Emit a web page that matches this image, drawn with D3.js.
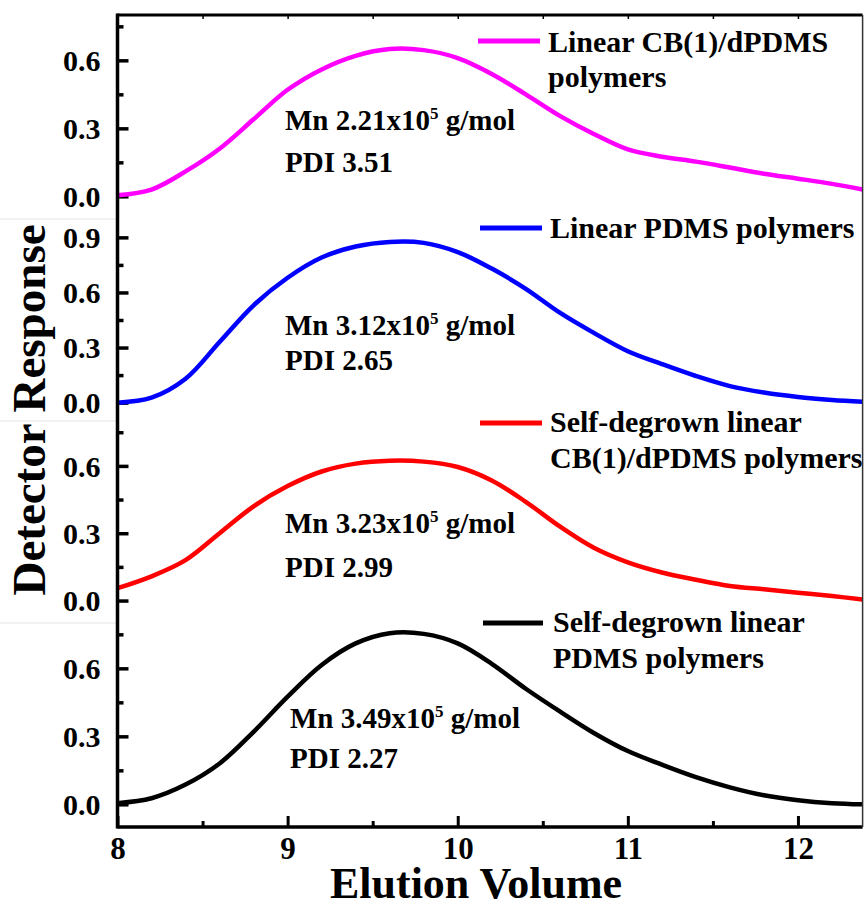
<!DOCTYPE html>
<html>
<head>
<meta charset="utf-8">
<script src="https://cdn.jsdelivr.net/npm/d3@7"></script>
<style>
  body { margin: 0; background: #fff; }
  text { font-family: "Liberation Serif", "Times New Roman", serif; font-weight: 700; }
</style>
</head>
<body>
<div id="chart"></div>
<script>
// elution volume sample points (shared by all traces)
var elution = [8.0, 8.2, 8.4, 8.6, 8.8, 9.0, 9.2, 9.4, 9.6, 9.8, 10.0, 10.2, 10.4, 10.6, 10.8, 11.0, 11.2, 11.4, 11.6, 11.8, 12.0, 12.2, 12.38];

// detector response
var linearCB = [0.005, 0.03, 0.11, 0.21, 0.34, 0.47, 0.56, 0.62, 0.65, 0.645, 0.61, 0.54, 0.45, 0.355, 0.275, 0.207, 0.175, 0.153, 0.127, 0.10, 0.078, 0.055, 0.03];
var linearPDMS = [0.0, 0.027, 0.13, 0.33, 0.53, 0.68, 0.79, 0.85, 0.875, 0.87, 0.82, 0.73, 0.62, 0.49, 0.38, 0.28, 0.21, 0.145, 0.09, 0.055, 0.031, 0.015, 0.005];
var degrownCB = [0.055, 0.108, 0.18, 0.30, 0.42, 0.51, 0.575, 0.61, 0.623, 0.619, 0.595, 0.535, 0.44, 0.33, 0.235, 0.17, 0.125, 0.093, 0.065, 0.05, 0.035, 0.02, 0.005];
var degrownPDMS = [0.005, 0.027, 0.087, 0.18, 0.32, 0.475, 0.615, 0.71, 0.755, 0.752, 0.71, 0.62, 0.51, 0.41, 0.315, 0.235, 0.175, 0.12, 0.075, 0.04, 0.018, 0.005, 0.0];

var seriesNames = [["Linear CB(1)/dPDMS", "polymers"], ["Linear PDMS polymers"], ["Self-degrown linear", "CB(1)/dPDMS polymers"], ["Self-degrown linear", "PDMS polymers"]];
var mnValues = ["2.21", "3.12", "3.23", "3.49"];
var pdiValues = ["3.51", "2.65", "2.99", "2.27"];
var colors = ["#ff00ff", "#0000ff", "#ff0000", "#000000"];

var xTicks = [8, 9, 10, 11, 12];
var xMinor = [8.5, 9.5, 10.5, 11.5];
var yMaxes = [0.8, 1.0, 0.8, 0.8];
var yTicksShort = [0, 0.3, 0.6];
var yTicksTall = [0, 0.3, 0.6, 0.9];
var yMinor = [0.15, 0.45, 0.75];

var W = 864, H = 908;
var left = 117.5, right = 862.6;
var bounds = [15, 219, 421, 623, 827];

// layout of the legend and the Mn/PDI notes, per panel
var legendLayout = [
  { x1: 478, x2: 540, ly: 41, tx: 548, ty: [52, 87] },
  { x1: 480, x2: 542, ly: 228, tx: 550, ty: [238] },
  { x1: 480, x2: 542, ly: 423, tx: 550, ty: [432, 468] },
  { x1: 483, x2: 543, ly: 623, tx: 553, ty: [632, 668] }
];
var noteLayout = [
  { x: 285, y1: 130, y2: 172 },
  { x: 285, y1: 335, y2: 370 },
  { x: 285, y1: 533, y2: 577 },
  { x: 290, y1: 728, y2: 768 }
];

var svg = d3.select("#chart").append("svg")
  .attr("width", W)
  .attr("height", H);

var x = d3.scaleLinear()
  .domain([8, 12.38])
  .range([left, right]);

var allSeries = [linearCB, linearPDMS, degrownCB, degrownPDMS];

// faint layer borders left of the axis
bounds.slice(1, 4).forEach(function (b) {
  svg.append("line")
    .attr("x1", 0).attr("x2", left)
    .attr("y1", b).attr("y2", b)
    .attr("stroke", "#e4e4e4")
    .attr("stroke-width", 1);
});

allSeries.forEach(function (vals, i) {
  var y = d3.scaleLinear()
    .domain([-0.1, yMaxes[i]])
    .range([bounds[i + 1], bounds[i]]);

  var major = yMaxes[i] > 0.9 ? yTicksTall : yTicksShort;

  var gMajor = svg.append("g")
    .attr("transform", "translate(" + left + ",0)")
    .call(d3.axisLeft(y).tickValues(major).tickSize(-11).tickPadding(17).tickFormat(d3.format(".1f")));
  gMajor.select(".domain").remove();
  gMajor.selectAll("line").attr("stroke", "#000").attr("stroke-width", 3.5);
  gMajor.selectAll("text").attr("font-size", 30).attr("fill", "#000").attr("dy", "0.34em");

  var gMinor = svg.append("g")
    .attr("transform", "translate(" + left + ",0)")
    .call(d3.axisLeft(y).tickValues(yMinor.filter(function (v) { return v < yMaxes[i]; })).tickSize(-6).tickFormat(""));
  gMinor.select(".domain").remove();
  gMinor.selectAll("line").attr("stroke", "#000").attr("stroke-width", 3.5);

  var line = d3.line()
    .x(function (d, k) { return x(elution[k]); })
    .y(function (d) { return y(d); })
    .curve(d3.curveCatmullRom.alpha(0.5));

  svg.append("path")
    .datum(vals)
    .attr("d", line)
    .attr("fill", "none")
    .attr("stroke", colors[i])
    .attr("stroke-width", 4.5)
    .attr("stroke-linejoin", "round");

  // legend
  var lg = legendLayout[i];
  svg.append("line")
    .attr("x1", lg.x1).attr("x2", lg.x2)
    .attr("y1", lg.ly).attr("y2", lg.ly)
    .attr("stroke", colors[i])
    .attr("stroke-width", 5);
  seriesNames[i].forEach(function (s, k) {
    svg.append("text")
      .attr("x", lg.tx)
      .attr("y", lg.ty[k])
      .attr("font-size", 30)
      .text(s);
  });

  // Mn / PDI note
  var nt = noteLayout[i];
  var mn = svg.append("text")
    .attr("x", nt.x)
    .attr("y", nt.y1)
    .attr("font-size", 29);
  mn.append("tspan").text("Mn " + mnValues[i] + "x10");
  mn.append("tspan").attr("dy", -11).attr("font-size", 17).text("5");
  mn.append("tspan").attr("dy", 11).text(" g/mol");

  svg.append("text")
    .attr("x", nt.x)
    .attr("y", nt.y2)
    .attr("font-size", 29)
    .text("PDI " + pdiValues[i]);
});

// bottom axis
var gx = svg.append("g")
  .attr("transform", "translate(0," + bounds[4] + ")")
  .call(d3.axisBottom(x).tickValues(xTicks).tickSize(-11).tickPadding(10).tickFormat(d3.format("d")));
gx.select(".domain").remove();
gx.selectAll("line").attr("stroke", "#000").attr("stroke-width", 3);
gx.selectAll("text").attr("font-size", 31).attr("fill", "#000");

var gxm = svg.append("g")
  .attr("transform", "translate(0," + bounds[4] + ")")
  .call(d3.axisBottom(x).tickValues(xMinor).tickSize(-6).tickFormat(""));
gxm.select(".domain").remove();
gxm.selectAll("line").attr("stroke", "#000").attr("stroke-width", 3);

// small top ticks
var gt = svg.append("g")
  .attr("transform", "translate(0," + bounds[0] + ")")
  .call(d3.axisTop(x).tickValues(xTicks.concat(xMinor)).tickSize(-4).tickFormat(""));
gt.select(".domain").remove();
gt.selectAll("line").attr("stroke", "#000").attr("stroke-width", 1.5);

// frame
svg.append("line").attr("x1", left).attr("x2", left).attr("y1", bounds[0] - 1.5).attr("y2", bounds[4] + 1.5)
  .attr("stroke", "#000").attr("stroke-width", 3.5);
svg.append("line").attr("x1", left).attr("x2", right).attr("y1", bounds[4]).attr("y2", bounds[4])
  .attr("stroke", "#000").attr("stroke-width", 3.5);
svg.append("line").attr("x1", left).attr("x2", right).attr("y1", bounds[0]).attr("y2", bounds[0])
  .attr("stroke", "#000").attr("stroke-width", 3);
svg.append("line").attr("x1", right).attr("x2", right).attr("y1", bounds[0]).attr("y2", bounds[4])
  .attr("stroke", "#333").attr("stroke-width", 1.5);

// axis titles
svg.append("text")
  .attr("x", (left + right) / 2 - 14)
  .attr("y", 898)
  .attr("text-anchor", "middle")
  .attr("font-size", 44)
  .text("Elution Volume");

svg.append("text")
  .attr("transform", "translate(45," + 410 + ") rotate(-90)")
  .attr("text-anchor", "middle")
  .attr("font-size", 47)
  .text("Detector Response");
</script>
</body>
</html>
